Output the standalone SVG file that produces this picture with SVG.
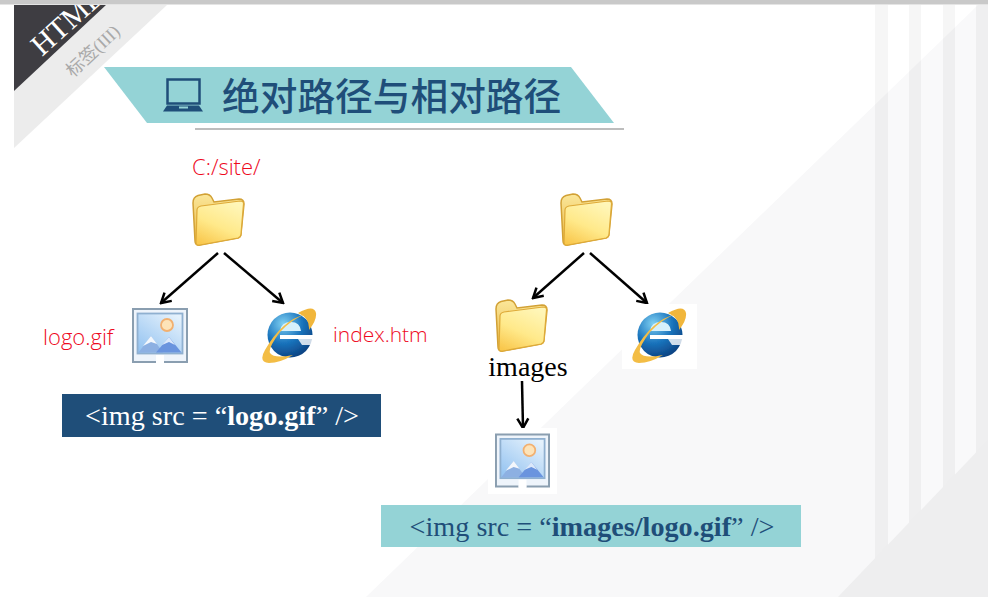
<svg xmlns="http://www.w3.org/2000/svg" xmlns:xlink="http://www.w3.org/1999/xlink" width="988" height="597" viewBox="0 0 988 597">
<style>
.red{font-family:"Open Sans","Noto Sans",sans-serif;font-weight:300;font-size:22px;fill:#ee0a1e}
.code{font-family:"Liberation Serif",serif;font-size:28.200px}
.line{stroke:#000;stroke-width:2.500;fill:none;marker-end:url(#arrow)}
.stripe{fill:#000;opacity:.035}
.glow{fill:#fff;opacity:.2}
</style>
<defs>
<marker id="arrow" viewBox="0 0 14 14" refX="12.500" refY="7" markerWidth="14" markerHeight="14" markerUnits="userSpaceOnUse" orient="auto">
<path d="M3 1.500L12.500 7L3 12.500" fill="none" stroke="#000" stroke-width="2.500"/>
</marker>
<filter id="soft" x="-10%" y="-10%" width="120%" height="120%"><feGaussianBlur stdDeviation="0.5"/></filter>
<linearGradient id="fb" x1="0" y1="0" x2="0" y2="1"><stop offset="0" stop-color="#fbe79a"/><stop offset="1" stop-color="#e8b53e"/></linearGradient>
<linearGradient id="ff" x1="0.7" y1="0" x2="0.2" y2="1"><stop offset="0" stop-color="#fff6b8"/><stop offset="0.55" stop-color="#ffe98a"/><stop offset="1" stop-color="#f9c84e"/></linearGradient>
<linearGradient id="pic" x1="0.8" y1="0" x2="0" y2="1"><stop offset="0" stop-color="#e4f1fc"/><stop offset="1" stop-color="#8fc0f0"/></linearGradient>
<radialGradient id="ieb" cx="0.35" cy="0.25" r="0.85"><stop offset="0" stop-color="#7fd0f2"/><stop offset="0.5" stop-color="#1a74bd"/><stop offset="1" stop-color="#0a3a78"/></radialGradient>
<symbol id="folder" viewBox="0 0 53 52" overflow="visible">
<g filter="url(#soft)">
<path d="M1 9Q1 3 6 1.500L13 0Q18 0 20 4L22 8L47 5Q52 5 52 10L49 40Q49 43 46 44L8 51Q3 52 3 47Z" fill="url(#fb)" stroke="#d2a135" stroke-width="1.500"/>
<path d="M5 16Q5 13 9 12L48 7Q52 7 51.500 10L49 40Q49 43 46 44L8 51Q4 52 4 48Z" fill="url(#ff)" stroke="#deaa38" stroke-width="1.200"/>
</g>
</symbol>
<symbol id="picture" viewBox="0 0 56 55" overflow="visible">
<g filter="url(#soft)">
<path d="M28 54H1V1H55V54H28" fill="#eef4fb"/>
<path d="M24 54H1V1H55V54H32" fill="none" stroke="#8a9eb0" stroke-width="2"/>
<rect x="5.500" y="5.500" width="45" height="40" fill="url(#pic)" stroke="#8fb0d0" stroke-width="1.800"/>
<circle cx="35" cy="17" r="6" fill="#fde3b8" stroke="#f2b070" stroke-width="1.800"/>
<path d="M6.500 44.500L19 28L31 44.500Z" fill="#8db0e2"/>
<path d="M24 44.500L37 29L49.500 44.500Z" fill="#6a94de"/>
<path d="M11 38L19 28L25 36L19 34Z" fill="#f3f7fc"/>
<path d="M30 37L37 29L43 37L37 34Z" fill="#dbe8fa"/>
<rect x="24" y="47" width="8" height="8" fill="#fff"/>
</g>
</symbol>
<symbol id="ie" viewBox="0 0 57 55" overflow="visible">
<g filter="url(#soft)">
<circle cx="30" cy="27" r="22.500" fill="url(#ieb)"/>
<path d="M20 23Q21 14 31 14Q40 14 41 23Z" fill="#d6f0fb"/>
<path d="M20 27H53V31H20Z" fill="#fff"/>
<path d="M38 31H53V37L42 37Z" fill="#fff" opacity=".8"/>
<path d="M38 5Q54 -4 56 5Q57 12 49 22Q50 10 38 5Z" fill="#f1b63a"/>
<path d="M46 6Q22 12 5 42Q-2 54 9 55Q20 55 33 47Q14 51 10 45Q8 40 20 24Q32 11 46 6Z" fill="#f3bd45"/>
</g>
</symbol>
</defs>

<g id="background">
<rect width="988" height="597" fill="#fff"/>
<polygon points="366,597 978,5 988,5 988,597" fill="#f8f8f9"/>
<rect class="glow" x="888" y="5" width="21" height="560"/>
<rect class="glow" x="921" y="5" width="22" height="520"/>
<rect class="glow" x="955" y="5" width="21" height="490"/>
<rect class="stripe" x="875" y="5" width="13" height="560"/>
<rect class="stripe" x="909" y="5" width="12" height="525"/>
<rect class="stripe" x="943" y="5" width="12" height="490"/>
<rect class="stripe" x="976" y="5" width="12" height="465"/>
<polygon points="838,597 988,440 988,597" fill="#eeeeef"/>
</g>

<g id="corner-ribbon">
<polygon points="14,91 106,5 167,5 14,148" fill="#ececec"/>
<polygon points="14,5 106,5 14,91" fill="#3e3d42"/>
<text transform="translate(42,57) rotate(-42)" font-family="'Liberation Serif',serif" font-size="30" fill="#fff">HTML</text>
<text transform="translate(73,78) rotate(-43)" font-family="'Noto Sans CJK SC','Liberation Serif',sans-serif" font-size="18" fill="#a9a9a9">标签<tspan font-family="'Liberation Serif',serif">(III)</tspan></text>
<rect width="988" height="4.500" fill="#c9c9c9"/>
</g>

<g id="title">
<polygon points="104,67 571,67 614,123 147,123" fill="#94d3d6"/>
<rect x="195" y="128" width="429" height="2" fill="#bdbdbd"/>
<g id="laptop-icon" fill="#1f4e79">
<rect x="167.500" y="79.500" width="32" height="24" fill="none" stroke="#1f4e79" stroke-width="2.500"/>
<path d="M167 105.500H199L203 111.500H163Z"/>
<rect x="179" y="106.500" width="9" height="2" fill="#94d3d6"/>
</g>
<text x="222" y="110" font-family="'Noto Sans CJK SC',sans-serif" font-weight="500" font-size="37.700" fill="#1f4e79">绝对路径与相对路径</text>
</g>

<g id="connectors">
<line class="line" x1="218" y1="253" x2="161" y2="303"/>
<line class="line" x1="224" y1="253" x2="283" y2="303"/>
<line class="line" x1="584" y1="253" x2="533" y2="298"/>
<line class="line" x1="590" y1="253" x2="647" y2="303"/>
<line class="line" x1="522" y1="381" x2="523" y2="428"/>
</g>

<g id="left-root"><text class="red" x="192" y="175">C:/site/</text><use xlink:href="#folder" href="#folder" x="192" y="194" width="53" height="52"/></g>
<g id="left-logo"><text class="red" x="43" y="345">logo.gif</text><use xlink:href="#picture" href="#picture" x="132" y="308" width="56" height="55"/></g>
<g id="left-index"><use xlink:href="#ie" href="#ie" x="260" y="308" width="57" height="55"/><text class="red" x="333" y="342" style="font-size:21px">index.htm</text></g>
<g id="left-code"><rect x="62" y="394" width="319" height="43" fill="#1f4e79"/><text class="code" x="222" y="425" text-anchor="middle" fill="#fff">&lt;img src = “<tspan font-weight="700">logo.gif</tspan>” /&gt;</text></g>

<g id="right-root"><use xlink:href="#folder" href="#folder" x="560" y="194" width="53" height="52"/></g>
<g id="right-images"><use xlink:href="#folder" href="#folder" x="495" y="300" width="53" height="52"/><text x="528" y="376" text-anchor="middle" font-family="'Liberation Serif',serif" font-size="28" fill="#000">images</text></g>
<g id="right-index"><rect x="622" y="304" width="75" height="65" fill="#fff"/><use xlink:href="#ie" href="#ie" x="630" y="308" width="57" height="55"/></g>
<g id="right-logo"><rect x="488" y="428" width="69" height="66" fill="#fff"/><use xlink:href="#picture" href="#picture" x="495" y="433" width="55" height="55"/></g>
<g id="right-code"><rect x="381" y="505" width="420" height="42" fill="#94d3d6"/><text class="code" x="592" y="536" text-anchor="middle" fill="#1f4e79">&lt;img src = “<tspan font-weight="700">images/logo.gif</tspan>” /&gt;</text></g>
</svg>
